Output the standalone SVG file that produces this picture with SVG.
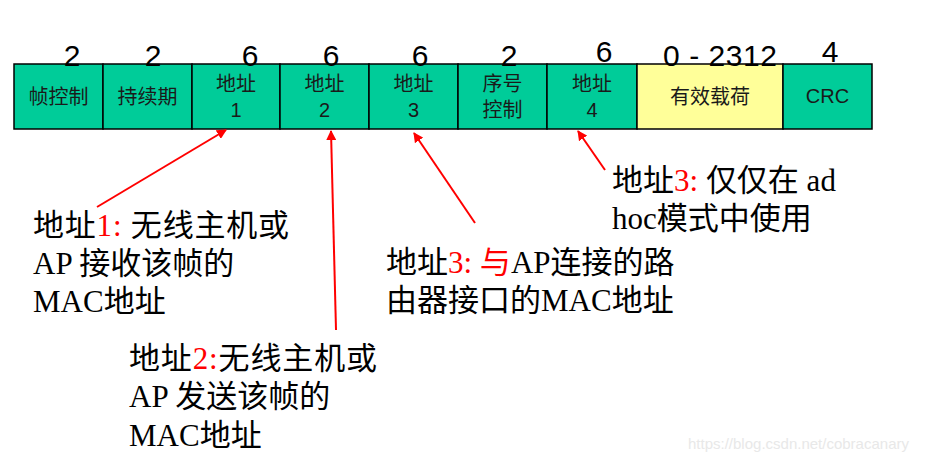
<svg xmlns="http://www.w3.org/2000/svg" width="930" height="463" viewBox="0 0 930 463">
<style>
.cell{fill:#00CC99;stroke:#000;stroke-width:1.5}
.pay{fill:#FFFF99;stroke:#000;stroke-width:1.5}
.num{font-family:"Liberation Sans",Arial,sans-serif;font-size:30px;fill:#000;text-anchor:middle}
.lbl{font-family:"Liberation Sans","Noto Sans CJK SC",sans-serif;font-size:20px;fill:#1a1a1a;text-anchor:middle}
.note{font-family:"Liberation Serif","Noto Sans CJK SC",serif;font-size:31px;fill:#000}
.red{fill:#FF0000}
.arr{stroke:#FF0000;stroke-width:2;fill:none;marker-end:url(#ah)}
.wm{font-family:"Liberation Sans",Arial,sans-serif;font-size:15px;fill:#e8e8e8}
</style>
<defs>
<marker id="ah" viewBox="0 0 10 10" refX="9" refY="5" markerWidth="5" markerHeight="5" orient="auto" markerUnits="strokeWidth">
<path d="M0,0 L10,5 L0,10 Z" fill="#FF0000"/>
</marker>
</defs>
<rect width="930" height="463" fill="#fff"/>
<g id="frame">
<g id="f1"><rect class="cell" x="14" y="64" width="89" height="65"/><text class="lbl" x="58.5" y="104">帧控制</text></g>
<g id="f2"><rect class="cell" x="103" y="64" width="89" height="65"/><text class="lbl" x="147.5" y="104">持续期</text></g>
<g id="f3"><rect class="cell" x="192" y="64" width="88" height="65"/><text class="lbl" x="236" y="91">地址</text><text class="lbl" x="236" y="117">1</text></g>
<g id="f4"><rect class="cell" x="280" y="64" width="89" height="65"/><text class="lbl" x="324.5" y="91">地址</text><text class="lbl" x="324.5" y="117">2</text></g>
<g id="f5"><rect class="cell" x="369" y="64" width="89" height="65"/><text class="lbl" x="413.5" y="91">地址</text><text class="lbl" x="413.5" y="117">3</text></g>
<g id="f6"><rect class="cell" x="458" y="64" width="89" height="65"/><text class="lbl" x="502.5" y="91">序号</text><text class="lbl" x="502.5" y="117">控制</text></g>
<g id="f7"><rect class="cell" x="547" y="64" width="90" height="65"/><text class="lbl" x="592" y="91">地址</text><text class="lbl" x="592" y="117">4</text></g>
<g id="f8"><rect class="pay" x="637" y="64" width="146" height="65"/><text class="lbl" x="710" y="104">有效载荷</text></g>
<g id="f9"><rect class="cell" x="783" y="64" width="89" height="65"/><text class="lbl" x="827.5" y="103">CRC</text></g>
</g>
<g id="sizes">
<text class="num" x="72" y="66">2</text>
<text class="num" x="153" y="66">2</text>
<text class="num" x="250" y="66">6</text>
<text class="num" x="331" y="66">6</text>
<text class="num" x="420" y="66">6</text>
<text class="num" x="509" y="66">2</text>
<text class="num" x="604" y="62">6</text>
<text class="num" x="720" y="66" textLength="114">0 - 2312</text>
<text class="num" x="830" y="62">4</text>
</g>
<g id="connectors">
<line class="arr" x1="97" y1="207" x2="226" y2="130"/>
<line class="arr" x1="336" y1="330" x2="331" y2="131"/>
<line class="arr" x1="475" y1="223" x2="414" y2="133"/>
<line class="arr" x1="605" y1="170" x2="578" y2="131"/>
</g>
<g id="note1">
<text class="note" x="33" y="236" textLength="256">地址<tspan class="red">1:</tspan> 无线主机或</text>
<text class="note" x="33" y="274">AP 接收该帧的</text>
<text class="note" x="33" y="312">MAC地址</text>
</g>
<g id="note2">
<text class="note" x="129" y="369" textLength="248">地址<tspan class="red">2:</tspan>无线主机或</text>
<text class="note" x="129" y="407">AP 发送该帧的</text>
<text class="note" x="129" y="446">MAC地址</text>
</g>
<g id="note3">
<text class="note" x="386" y="273">地址<tspan class="red">3: 与</tspan>AP连接的路</text>
<text class="note" x="386" y="311">由器接口的MAC地址</text>
</g>
<g id="note4">
<text class="note" x="612" y="191">地址<tspan class="red">3:</tspan> 仅仅在 ad</text>
<text class="note" x="612" y="229">hoc模式中使用</text>
</g>
<text class="wm" x="688" y="449">https://blog.csdn.net/cobracanary</text>
</svg>
